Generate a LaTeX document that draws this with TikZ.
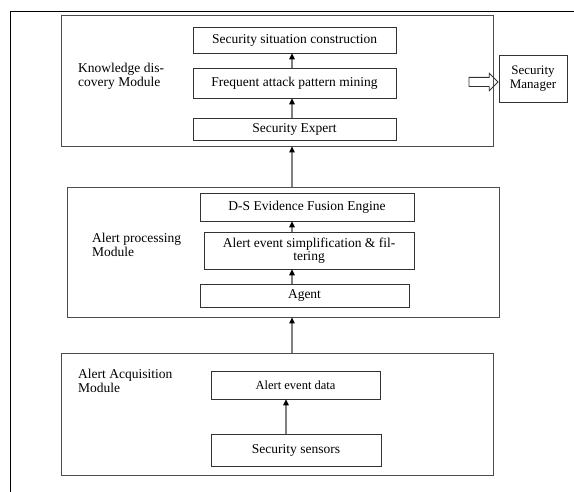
\documentclass[tikz,border=0pt]{standalone}
\usepackage{fontspec}
\setmainfont{Liberation Serif}
\usepackage{tikz}
\usetikzlibrary{arrows.meta, positioning, shapes.arrows}

\begin{document}
\begin{tikzpicture}[x=1pt, y=-1pt,
  module/.style={rectangle, draw=black!70, line width=0.8pt, inner sep=0pt},
  stage/.style={rectangle, draw=black!80, line width=0.7pt, inner sep=1pt,
                font=\fontsize{13.5}{13.5}\selectfont, align=center},
  label/.style={anchor=north west, inner sep=0pt, align=left,
                font=\fontsize{13.5}{13.5}\selectfont},
  arrow/.style={-{Triangle[length=6pt, width=5.5pt, black]}, draw=black!50, line width=1.2pt},
  push/.style={single arrow, draw=black!80, line width=0.8pt, inner sep=4.2pt,
               single arrow head extend=4pt, minimum height=29pt, anchor=tip}
]
  \useasboundingbox (0,0) rectangle (574,492);
  % page frame
  \draw[line width=0.8pt] (10.5,492) -- (10.5,11) -- (574,11);

  % knowledge discovery module
  \node[module, minimum width=432pt, minimum height=131pt] (know) at (277,80.5) {};
  \node[label] (knowlbl) at (78,63) {Knowledge dis-\\covery Module};
  \node[stage, minimum width=203pt, minimum height=26pt] (situation) at (294.5,40) {Security situation construction};
  \node[stage, minimum width=203pt, minimum height=30pt] (mining) at (294.5,83) {Frequent attack pattern mining};
  \node[stage, minimum width=203pt, minimum height=22pt] (expert) at (294.5,129) {Security Expert};

  \node[stage, font=\fontsize{13}{13.5}\selectfont, minimum width=68pt, minimum height=47pt] (manager) at (533,78.5) {Security\\Manager};
  \node[push] (report) at (498.5,82) {};

  % alert processing module
  \node[module, minimum width=432pt, minimum height=130pt] (proc) at (283,252) {};
  \node[label] (proclbl) at (92,233) {Alert processing\\Module};
  \node[stage, minimum width=214pt, minimum height=28pt] (fusion) at (307,207) {D-S Evidence Fusion Engine};
  \node[stage, minimum width=210pt, minimum height=37pt] (filter) at (309,250.5) {Alert event simplification \& fil-\\tering};
  \node[stage, minimum width=209pt, minimum height=23pt] (agent) at (304.5,295.5) {Agent};

  % alert acquisition module
  \node[module, minimum width=432pt, minimum height=122pt] (acq) at (277,414) {};
  \node[label] (acqlbl) at (78,369) {Alert Acquisition\\Module};
  \node[stage, font=\fontsize{12.5}{13.5}\selectfont, minimum width=169pt, minimum height=28pt] (data) at (295.5,385) {Alert event data};
  \node[stage, minimum width=170pt, minimum height=32pt] (sensors) at (296,450) {Security sensors};

  \coordinate (spine) at (292,0);
  \coordinate (feed) at (286,0);

  \draw[arrow] (mining.north -| spine) -- (situation.south -| spine);
  \draw[arrow] (expert.north -| spine) -- (mining.south -| spine);
  \draw[arrow] (proc.north -| spine) -- (know.south -| spine);
  \draw[arrow] (filter.north -| spine) -- (fusion.south -| spine);
  \draw[arrow] (agent.north -| spine) -- (filter.south -| spine);
  \draw[arrow] (acq.north -| spine) -- (proc.south -| spine);
  \draw[arrow] (sensors.north -| feed) -- (data.south -| feed);
\end{tikzpicture}
\end{document}
